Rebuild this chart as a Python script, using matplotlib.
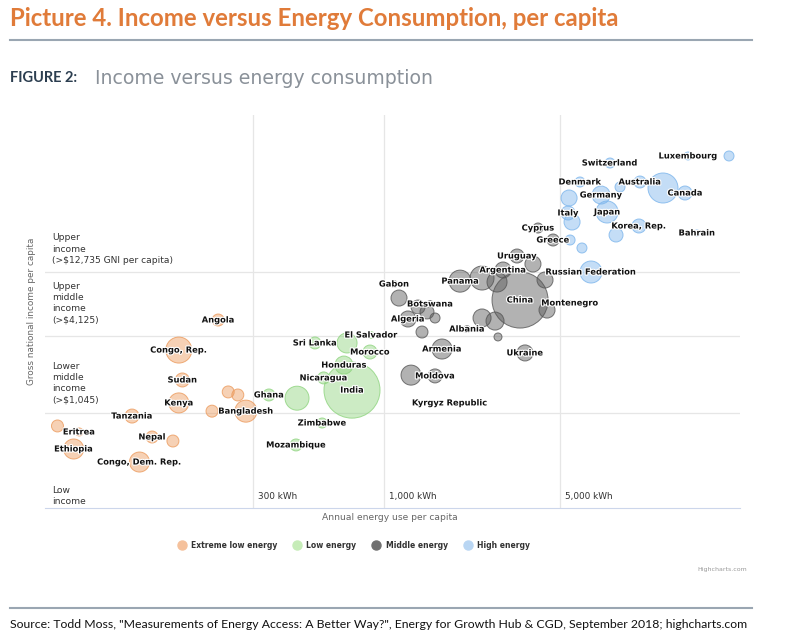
import matplotlib.pyplot as plt
import matplotlib.patheffects as pe
from matplotlib.lines import Line2D
import numpy as np

# ---- data (energy kWh per capita, GNI $ per capita, population in millions) ----
xlow_names = ["Angola", "Congo, Rep.", "Sudan", "Kenya", "", "", "", "Bangladesh",
              "Tanzania", "", "Eritrea", "Nepal", "", "Ethiopia", "Congo, Dem. Rep."]
xlow_energy = [218, 152, 157, 152, 239, 261, 206, 281, 99, 50, 61, 119, 144, 58, 106]
xlow_gni = [5460, 3200, 1880, 1250, 1520, 1440, 1080, 1080, 990, 830, 746, 682, 635, 551, 437]
xlow_pop = [63, 297, 86, 176, 63, 63, 63, 213, 86, 63, 28, 63, 63, 176, 176]

low_names = ["Sri Lanka", "", "El Salvador", "Morocco", "Honduras", "Nicaragua", "India",
             "Ghana", "", "Zimbabwe", "Mozambique"]
low_energy = [529, 710, 885, 876, 690, 573, 743, 347, 449, 565, 445]
low_gni = [3630, 3630, 4180, 3090, 2450, 1950, 1570, 1440, 1360, 875, 592]
low_pop = [63, 176, 20, 86, 143, 63, 1380, 63, 253, 44, 63]

mid_names = ["Cyprus", "Greece", "Uruguay", "", "Panama", "", "", "Argentina", "",
             "China", "", "Montenegro", "Gabon", "", "Botswana", "", "", "", "Algeria",
             "", "Albania", "", "", "", "Armenia", "Ukraine", "", "Moldova",
             "Kyrgyz Republic"]
mid_energy = [4085, 4690, 3370, 3900, 2000, 2446, 2806, 2965, 4356,
              3465, 4436, 5476, 1092, 1143, 1519, 1361, 1477, 1590, 1241,
              1411, 2132, 2446, 2755, 2831, 1695, 3627, 1276, 1590, 1824]
mid_gni = [28030, 22650, 17040, 14780, 10900, 11520, 10730, 13280, 11120,
           7790, 6520, 7390, 10350, 8070, 7260, 6880, 6300, 5660, 5560,
           4410, 4650, 5660, 5360, 4040, 3260, 3040, 2050, 2020, 1250]
mid_pop = [44, 63, 86, 113, 213, 253, 176, 113, 113,
           1380, 113, 10, 20, 113, 20, 86, 86, 44, 113,
           63, 20, 143, 143, 28, 176, 113, 176, 86, 6]

high_names = ["Luxembourg", "", "Switzerland", "Denmark", "Australia", "", "", "Canada",
              "Germany", "", "Japan", "Italy", "", "Korea, Rep.", "", "Bahrain", "", "",
              "Russian Federation"]
high_energy = [16150, 23510, 7900, 6000, 10400, 8660, 12840, 15710,
               7280, 5430, 7690, 5380, 5580, 10300, 8350, 17530, 5480, 6110, 6640]
high_gni = [100900, 100900, 89040, 63530, 63530, 58120, 57100, 52230,
            50400, 47780, 37260, 36600, 31190, 29050, 24750, 25660, 22650, 19650, 12820]
high_pop = [28, 44, 44, 44, 63, 44, 396, 86,
            143, 113, 213, 86, 113, 86, 86, 16, 44, 44, 213]

series_names = ["Extreme low energy", "Low energy", "Middle energy", "High energy"]
series_colors = ["#ec9a5c", "#8ed47e", "#555555", "#7cb5ec"]
legend_colors = ["#f5c19c", "#c6ecb8", "#707070", "#b9d6f3"]

income_lines = [1045, 4125, 12735]
energy_lines = [300, 1000, 5000]
energy_labels = ["300 kWh", "1,000 kWh", "5,000 kWh"]

fig = plt.figure(figsize=(8, 6.38), dpi=100)
ax = fig.add_axes([45 / 800, 1 - 508 / 638, 695 / 800, 393 / 638])
ax.set_xscale("log")
ax.set_yscale("log")
ax.set_xlim(44.6, 26000)
ax.set_ylim(193, 209100)
for s in ax.spines.values():
    s.set_visible(False)
ax.spines["bottom"].set_visible(True)
ax.spines["bottom"].set_color("#ccd6eb")
ax.set_xticks([])
ax.set_yticks([])
ax.minorticks_off()
ax.tick_params(which="both", length=0, labelbottom=False, labelleft=False)

for v in energy_lines:
    ax.axvline(v, color="#e6e6e6", lw=0.9, zorder=0)
for v in income_lines:
    ax.axhline(v, color="#e6e6e6", lw=0.9, zorder=0)

outline = [pe.withStroke(linewidth=1.6, foreground="white")]
all_series = [
    (xlow_names, xlow_energy, xlow_gni, xlow_pop),
    (low_names, low_energy, low_gni, low_pop),
    (mid_names, mid_energy, mid_gni, mid_pop),
    (high_names, high_energy, high_gni, high_pop),
]
for (names, en, gni, pop), col in zip(all_series, series_colors):
    sizes = np.maximum(np.array(pop) * 1.18, 8)
    ax.scatter(en, gni, s=sizes, facecolor=col, alpha=0.45, edgecolor="none", zorder=2)
    ax.scatter(en, gni, s=sizes, facecolor="none", edgecolor=col, linewidth=0.7,
               alpha=0.8, zorder=2)
    for n, x, y in zip(names, en, gni):
        if n:
            ax.text(x, y, n, fontsize=6.0, fontweight="bold", color="#111111",
                    ha="center", va="center", zorder=5, path_effects=outline)

# energy tick labels
for v, lab in zip(energy_lines, energy_labels):
    ax.annotate(lab, xy=(v, 0.0305), xycoords=("data", "axes fraction"),
                xytext=(3.6, 0), textcoords="offset points", fontsize=6.4,
                color="#333333", va="center", ha="left")

# income band labels
bands = [("Upper\nincome\n(>$12,735 GNI per capita)", 249),
         ("Upper\nmiddle\nincome\n(>$4,125)", 303),
         ("Lower\nmiddle\nincome\n(>$1,045)", 383),
         ("Low\nincome", 496)]
for txt, py in bands:
    ax.text(0.01, (508 - py) / 393, txt, transform=ax.transAxes, fontsize=6.6,
            color="#333333", va="center", ha="left", linespacing=1.32)

fig.text(390 / 800, 1 - 518 / 638, "Annual energy use per capita", fontsize=6.6,
         color="#666666", ha="center", va="center")
fig.text(32 / 800, 1 - 311 / 638, "Gross national income per capita", fontsize=6.4,
         color="#666666", ha="center", va="center", rotation=90)

handles = [Line2D([], [], marker="o", ls="", markersize=6.5, markerfacecolor=c,
                  markeredgecolor=c) for c in legend_colors]
fig.legend(handles, series_names, loc="center", bbox_to_anchor=(352 / 800, 1 - 545 / 638),
           ncol=4, frameon=False, handletextpad=0.2, columnspacing=1.6,
           prop={"size": 5.5, "weight": "bold"}, labelcolor="#333333")

fig.text(747 / 800, 1 - 570 / 638, "Highcharts.com", fontsize=4.5, color="#999999",
         ha="right", va="center")

# header and footer
fig.text(10 / 800, 1 - 18 / 638, "Picture 4. Income versus Energy Consumption, per capita",
         fontsize=17.3, fontweight="bold", color="#e07b39", family="Lato",
         ha="left", va="center")
fig.add_artist(Line2D([10 / 800, 752 / 800], [1 - 40 / 638] * 2, color="#9aa6b2", lw=1.5))
fig.text(10 / 800, 1 - 78 / 638, "FIGURE 2:", fontsize=10.5, color="#2c3e50",
         family="Lato", fontweight="bold", ha="left", va="center")
fig.text(95 / 800, 1 - 78 / 638, "Income versus energy consumption", fontsize=13.6,
         color="#8a9199", family="DejaVu Sans", ha="left", va="center")
fig.add_artist(Line2D([10 / 800, 752 / 800], [1 - 608 / 638] * 2, color="#9aa6b2", lw=1.5))
fig.text(10 / 800, 1 - 625 / 638,
         'Source: Todd Moss, "Measurements of Energy Access: A Better Way?", Energy for '
         'Growth Hub & CGD, September 2018; highcharts.com',
         fontsize=8.8, color="#111111", family="Lato", ha="left", va="center")

fig.savefig("out.png", dpi=100)
